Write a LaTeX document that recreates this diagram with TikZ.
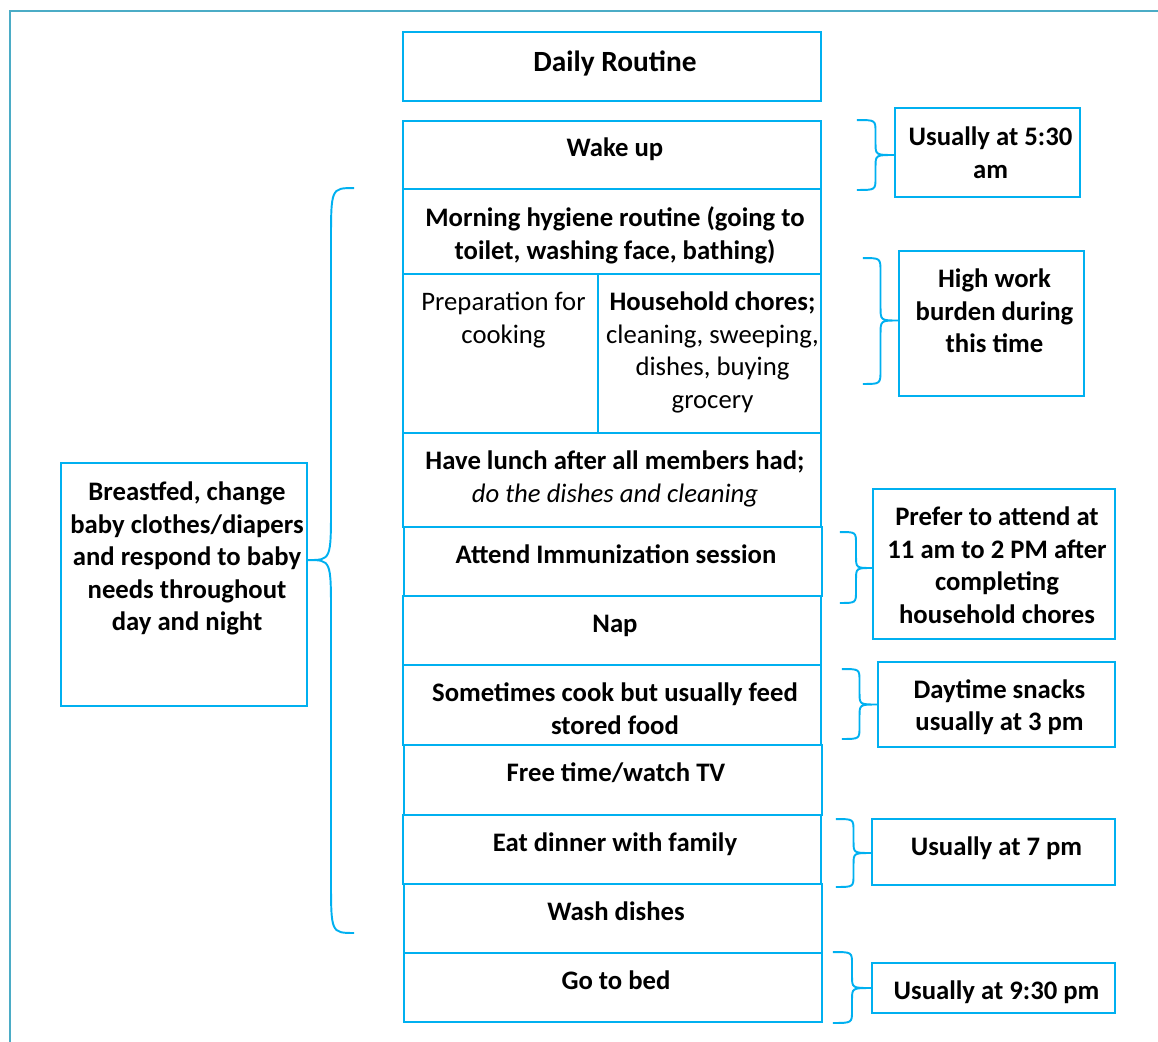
\documentclass[tikz,border=0pt]{standalone}
\usepackage{fontspec}
\setmainfont{Carlito}
\usetikzlibrary{calc,fit,positioning}
\definecolor{boxblue}{HTML}{00B0F0}
\definecolor{frameblue}{HTML}{4BACC6}
% curly bracket: top end, bottom end, tip, bend
\newcommand{\curly}[4]{%
  \draw[curl] let \p1=(#1), \p2=(#2), \p3=(#3), \p4=($(\p1)!.5!(\p3)$) in
    (\p1) .. controls (\x4,\y1) .. (\x4,{\y1-#4})
    -- (\x4,{\y3+#4}) .. controls (\x4,\y3) .. (\p3)
    .. controls (\x4,\y3) .. (\x4,{\y3-#4})
    -- (\x4,{\y2+#4}) .. controls (\x4,\y2) .. (\p2);
}
\tikzset{
  cell/.style={draw=boxblue, line width=1.1pt, inner sep=0pt},
  celltext/.style={anchor=north, inner sep=0pt, align=center, xshift=0.06cm,
    font=\fontsize{15.2}{18.5}\selectfont\bfseries, execute at begin node=\strut},
  plaintext/.style={celltext, font=\fontsize{15.2}{18.5}\selectfont},
  curl/.style={draw=boxblue, line width=1.1pt},
}

\begin{document}
\begin{tikzpicture}[x=0.02cm, y=-0.02cm]
  \useasboundingbox (0,0) rectangle (1158,1041);
  
  %%%%% FRAME %%%%%
  \draw[line width=1.2pt, color=frameblue] (10,11) rectangle (1190,1070);
  
  %%%%% DAY COLUMN %%%%%
  \node[cell, fit={(403,32) (821,101)}] (title) {};
  \node[celltext, below=0.31cm of title.north, font=\fontsize{16.7}{20.4}\selectfont\bfseries] (title-t) {Daily Routine};
  
  \node[cell, fit={(403,121) (821,189)}] (wake) {};
  \node[celltext, below=0.27cm of wake.north] (wake-t) {Wake up};
  
  \node[cell, fit={(403,189) (821,274)}] (hyg) {};
  \node[celltext, below=0.37cm of hyg.north] (hyg-t) {Morning hygiene routine (going to\\toilet, washing face, bathing)};
  
  \node[cell, fit={(403,274) (598,433)}] (prep) {};
  \node[plaintext, below=0.38cm of prep.north] (prep-t) {Preparation for\\cooking};
  \node[cell, fit={(598,274) (821,433)}] (chores) {};
  \node[plaintext, below=0.37cm of chores.north] (chores-t) {\textbf{Household chores;}\\cleaning, sweeping,\\dishes, buying\\grocery};
  
  \node[cell, fit={(403,433) (821,527)}] (lunch) {};
  \node[celltext, below=0.37cm of lunch.north] (lunch-t) {Have lunch after all members had;\\\textmd{\textit{do the dishes and cleaning}}};
  
  \node[cell, fit={(404,527) (822,596)}] (immun) {};
  \node[celltext, below=0.29cm of immun.north] (immun-t) {Attend Immunization session};
  
  \node[cell, fit={(403,596) (821,665)}] (nap) {};
  \node[celltext, below=0.28cm of nap.north] (nap-t) {Nap};
  
  \node[cell, fit={(403,665) (821,745)}] (cook) {};
  \node[celltext, below=0.37cm of cook.north] (cook-t) {Sometimes cook but usually feed\\stored food};
  
  \node[cell, fit={(404,745) (822,815)}] (free) {};
  \node[celltext, below=0.28cm of free.north] (free-t) {Free time/watch TV};
  
  \node[cell, fit={(403,815) (821,884)}] (dinner) {};
  \node[celltext, below=0.28cm of dinner.north] (dinner-t) {Eat dinner with family};
  
  \node[cell, fit={(404,884) (822,953)}] (wash) {};
  \node[celltext, below=0.28cm of wash.north] (wash-t) {Wash dishes};
  
  \node[cell, fit={(404,953) (822,1022)}] (bed) {};
  \node[celltext, below=0.28cm of bed.north] (bed-t) {Go to bed};
  
  %%%%% NOTES %%%%%
  \node[cell, fit={(895,108) (1080,197)}] (n1) {};
  \node[celltext, below=0.39cm of n1.north] (n1-t) {Usually at 5:30\\am};
  
  \node[cell, fit={(899,251) (1084,396)}] (n2) {};
  \node[celltext, below=0.37cm of n2.north] (n2-t) {High work\\burden during\\this time};
  
  \node[cell, fit={(873,489) (1115,639)}] (n3) {};
  \node[celltext, below=0.37cm of n3.north] (n3-t) {Prefer to attend at\\11 am to 2 PM after\\completing\\household chores};
  
  \node[cell, fit={(878,662) (1115,747)}] (n4) {};
  \node[celltext, below=0.36cm of n4.north] (n4-t) {Daytime snacks\\usually at 3 pm};
  
  \node[cell, fit={(872,819) (1115,885)}] (n5) {};
  \node[celltext, below=0.29cm of n5.north] (n5-t) {Usually at 7 pm};
  
  \node[cell, fit={(872,963) (1115,1013)}] (n6) {};
  \node[celltext, below=0.29cm of n6.north] (n6-t) {Usually at 9:30 pm};
  
  \node[cell, fit={(61,463) (307,706)}] (baby) {};
  \node[celltext, below=0.39cm of baby.north] (baby-t) {Breastfed, change\\baby clothes/diapers\\and respond to baby\\needs throughout\\day and night};
  
  %%%%% BRACES %%%%%
  \curly{$(wake.north east)+(35,0)$}{$(wake.south east)+(35,0)$}{n1.west |- wake.east}{7pt}
  \curly{$(chores.north east)+(41,-15)$}{$(chores.south east)+(41,-50)$}{$(n2.west)+(0,-3)$}{8pt}
  \curly{$(immun.north east)+(17,6)$}{$(immun.south east)+(17,6)$}{$(n3.west)+(0,4)$}{7pt}
  \curly{$(cook.north east)+(20,5)$}{$(cook.south east)+(20,-7)$}{n4.west}{7pt}
  \curly{$(dinner.north east)+(14,5)$}{$(dinner.south east)+(14,2)$}{$(n5.west)+(0,1)$}{7pt}
  \curly{$(bed.north east)+(10,0)$}{$(bed.south east)+(10,0)$}{n6.west}{7pt}
  \curly{$(hyg.north west)+(-48,0)$}{$(wash.south west)+(-49,-21)$}{$(baby.north east)+(0,98)$}{31pt}
\end{tikzpicture}
\end{document}
